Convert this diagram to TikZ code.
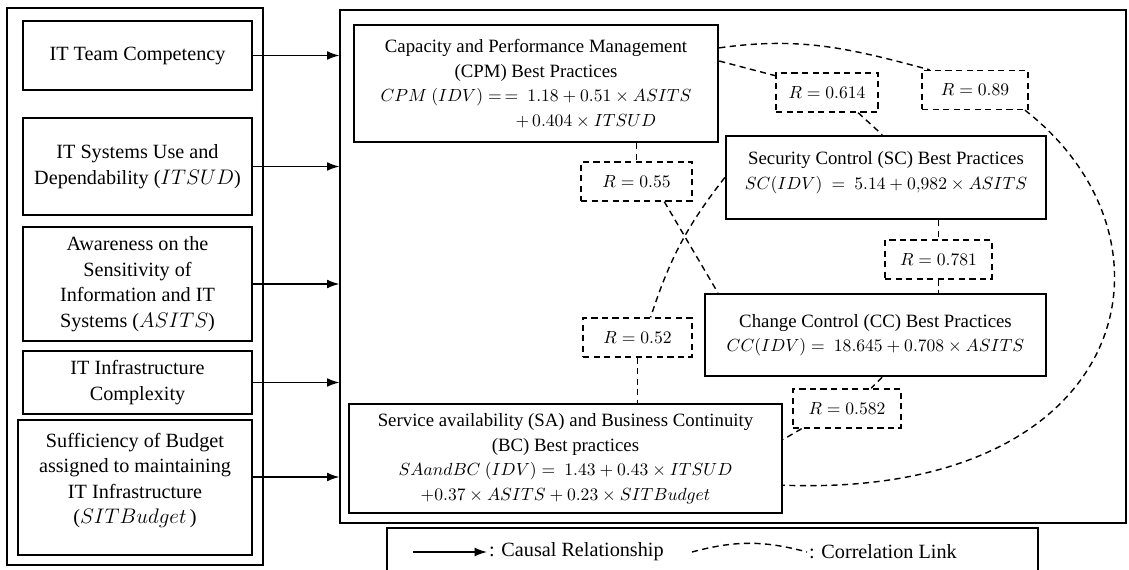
\documentclass[tikz,border=0pt]{standalone}
\usepackage{amsmath}
\usepackage{fontspec}
\setmainfont{Liberation Serif}
\usepackage{tikz}
\usetikzlibrary{arrows.meta, positioning, calc}

\newcommand{\eqfont}{\fontsize{9.6}{14}\selectfont}

\begin{document}
\begin{tikzpicture}[
    x=0.02cm, y=-0.02cm,
    font=\fontsize{11.5}{14.5}\selectfont,
    frame/.style={rectangle, draw, line width=0.8pt, inner sep=0pt},
    factor/.style={rectangle, draw, line width=1.4pt, minimum width=4.58cm, align=center, inner sep=2pt},
    practice/.style={rectangle, draw, line width=1.4pt, align=center, inner sep=2pt, font=\fontsize{10.7}{14}\selectfont},
    rbox/.style={rectangle, draw, dash pattern=on 3.5pt off 2.5pt, line width=0.8pt, minimum width=2.15cm, minimum height=0.78cm, align=center, font=\fontsize{9.6}{12}\selectfont},
    arrow/.style={-{Latex[length=7pt, width=5pt]}, line width=0.8pt},
    corr/.style={dash pattern=on 3.5pt off 2.5pt, line width=0.8pt},
]
    \useasboundingbox (0,0) rectangle (1129,570);

    % Frames
    \node[frame, minimum width=5.12cm, minimum height=11.14cm] (factors) at (135,286.5) {};
    \node[frame, minimum width=15.72cm, minimum height=10.26cm] (model) at (733,266.5) {};

    % Factors
    \node[factor, minimum height=1.38cm] (itc) at (137.5,55.5) {IT Team Competency};
    \node[factor, minimum height=1.94cm] (itsud) at (137.5,166.5) {IT Systems Use and\\Dependability ($ITSUD$)};
    \node[factor, minimum height=2.28cm] (asits) at (137.5,284) {Awareness on the\\Sensitivity of\\Information and IT\\Systems ($ASITS$)};
    \node[factor, minimum height=1.26cm] (itic) at (137.5,382.5) {IT Infrastructure\\Complexity};
    \node[factor, minimum width=4.68cm, minimum height=2.7cm] (sitb) at (135,487.5) {Sufficiency of Budget\\assigned to maintaining\\IT Infrastructure\\($SITBudget$\,)\\[-4pt]\mbox{}};

    % Causal arrows
    \foreach \f in {itc, itsud, asits, itic}
        \draw[arrow] (\f.east) -- (\f.east -| model.west);
    \coordinate (sitbout) at ([yshift=0.21cm]sitb.east);
    \draw[arrow] (sitbout) -- (sitbout -| model.west);

    % Best practices
    \node[practice, minimum width=7.28cm, minimum height=2.34cm] (cpm) at (536,83.5) {
        Capacity and Performance Management\\(CPM) Best Practices\\
        {\eqfont$CPM\ (IDV) =\,=\ 1.18 + 0.51 \times ASITS$}\\
        \hspace*{2.0cm}{\eqfont$+\,0.404 \times ITSUD$}
    };
    \node[practice, minimum width=6.4cm, minimum height=1.66cm] (sc) at (886,177.5) {
        Security Control (SC) Best Practices\\
        {\eqfont$SC(IDV)\ =\ 5.14 + 0{,}982 \times ASITS$}\\[-6pt]\mbox{}
    };
    \node[practice, minimum width=6.82cm, minimum height=1.64cm] (cc) at (875.5,335) {
        Change Control (CC) Best Practices\\
        {\eqfont$CC(IDV) =\ 18.645 + 0.708 \times ASITS$}
    };
    \node[practice, minimum width=8.66cm, minimum height=2.18cm] (sa) at (565.5,458.5) {
        Service availability (SA) and Business Continuity\\(BC) Best practices\\
        {\eqfont$SAandBC\ (IDV) =\ 1.43 + 0.43 \times ITSUD$}\\
        {\eqfont$+0.37 \times ASITS + 0.23 \times SITBudget$}
    };

    % Correlation values
    \node[rbox, minimum width=2.22cm] (r55) at (636.5,181.5) {$R = 0.55$};
    \node[rbox, minimum width=2.04cm] (r614) at (827,92.5) {$R = 0.614$};
    \node[rbox, minimum width=2.12cm] (r89) at (975,90) {$R = 0.89$};
    \node[rbox, minimum width=2.14cm] (r781) at (938.5,259.5) {$R = 0.781$};
    \node[rbox, minimum width=2.18cm] (r52) at (637.5,337.5) {$R = 0.52$};
    \node[rbox, minimum width=2.16cm] (r582) at (847,408.5) {$R = 0.582$};

    % Correlation links
    \draw[corr] (cpm.7) -- (r614.162);
    \draw[corr] (r614.-33) -- (sc.95);
    \draw[corr] (cpm.11) to[out=8, in=165] (r89.156);
    \draw[corr] (r89.-22) .. controls +(168,131) and +(348,13) .. (sa.-7.5);
    \draw[corr] (r55.north |- cpm.south) -- (r55.north);
    \draw[corr] (r55.-36) -- (cc.165);
    \draw[corr] (sc.west) to[out=232, in=72] (r52.57);
    \draw[corr] (r52.south) -- (r52.south |- sa.north);
    \draw[corr] (r781.north |- sc.south) -- (r781.north);
    \draw[corr] (r781.south) -- (r781.south |- cc.north);
    \draw[corr] (cc.-81) -- (r582.40);
    \draw[corr] (r582.-156) -- (sa.5.7);

    % Legend
    \draw[frame] (387,575) |- (1038,528) -- (1038,575);
    \coordinate (causalstart) at (413,552);
    \node[anchor=west, inner sep=1pt] (causal) at (487,552) {: Causal Relationship};
    \draw[arrow] (causalstart) -- (causal.west);
    \coordinate (corrstart) at (692,552);
    \node[anchor=west, inner sep=1pt] (corrlink) at (807,552) {: Correlation Link};
    \draw[corr] (corrstart) to[bend left=15] (corrlink.west);

\end{tikzpicture}
\end{document}
